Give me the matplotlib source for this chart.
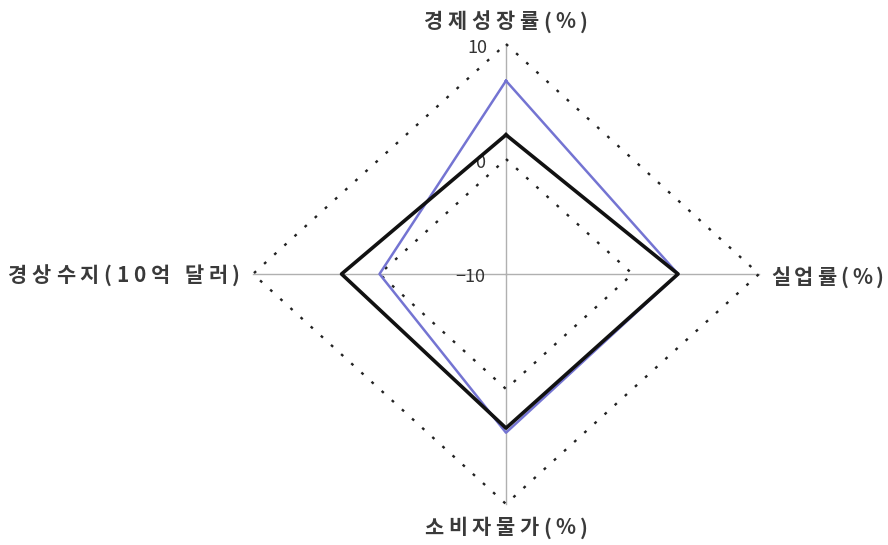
import numpy as np
import matplotlib
matplotlib.use("Agg")
import matplotlib.pyplot as plt
from matplotlib.transforms import IdentityTransform

plt.rcParams['font.family'] = ['Noto Sans CJK KR', 'DejaVu Sans']

# data
axes_labels = ["경제성장률(%)", "실업률(%)", "소비자물가(%)", "경상수지(10억 달러)"]
series_black = [2.1, 3.6, 3.4, 3.0]
series_blue = [6.8, 3.6, 3.8, 0.0]
grid_levels = [0, 10]
tick_labels = ["10", "0", "−10"]
rmin, rmax = -10, 10

W, H = 888, 545
fig = plt.figure(figsize=(W / 100, H / 100), dpi=100)
ax = fig.add_axes([0, 0, 1, 1])
ax.set_xlim(-506 / 253, (W - 506) / 253)
ax.set_ylim(-(H - 274) / 230, 274 / 230)
ax.axis('off')

angles = np.array([np.pi / 2, 0, -np.pi / 2, np.pi])
dx, dy = np.cos(angles), np.sin(angles)


def to_xy(vals):
    r = (np.asarray(vals, float) - rmin) / (rmax - rmin)
    x = r * dx
    y = r * dy
    return np.append(x, x[0]), np.append(y, y[0])


# axis spokes
for a in range(4):
    ax.plot([0, dx[a]], [0, dy[a]], color='#b0b0b0', lw=1.0, zorder=1)

# dotted grid
for lv in grid_levels:
    gx, gy = to_xy([lv] * 4)
    ax.plot(gx, gy, color='#222222', lw=1.7, ls=(0, (1.2, 4.6)), zorder=2)

# series
bx, by = to_xy(series_blue)
ax.plot(bx, by, color='#7474d2', lw=1.8, zorder=3)
kx, ky = to_xy(series_black)
ax.plot(kx, ky, color='#111111', lw=2.6, zorder=4)

renderer = fig.canvas.get_renderer()
txt = dict(color='#3a3a3a', fontsize=15, fontweight='bold')


def spaced(s, x0, x1, ycen_top):
    """Place characters of s spread between pixel x0 and x1 (from left),
    vertically centred at ycen_top (pixels from top)."""
    widths = []
    for ch in s:
        if ch == ' ':
            widths.append(5.0)
            continue
        t = fig.text(0, 0, ch, **txt)
        bb = t.get_window_extent(renderer)
        widths.append(bb.width)
        t.remove()
    gap = (x1 - x0 - sum(widths)) / (len(s) - 1)
    x = x0
    y = H - ycen_top
    for ch, w in zip(s, widths):
        if ch != ' ':
            fig.text(x, y, ch, ha='left', va='center',
                     transform=IdentityTransform(), **txt)
        x += w + gap


spaced(axes_labels[0], 424, 588, 22)
spaced(axes_labels[1], 771, 884, 277)
spaced(axes_labels[2], 424, 588, 528)
spaced(axes_labels[3], 8, 240, 275)

tk = dict(color='#333333', fontsize=13, ha='right', va='center')
ax.text(-0.075, 0.983, tick_labels[0], **tk)
ax.text(-0.083, 0.483, tick_labels[1], **tk)
ax.text(-0.083, -0.013, tick_labels[2], **tk)

fig.savefig('out.png', dpi=100)
